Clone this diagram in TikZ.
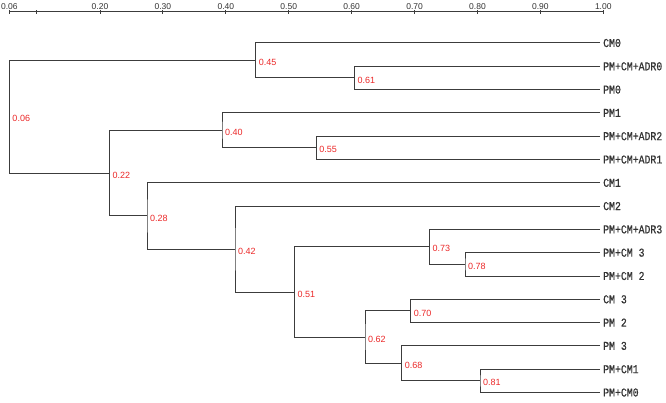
\documentclass[tikz,border=0pt]{standalone}
\usepackage{fontspec}
\setmainfont{Liberation Sans}
\newfontfamily\leaffont[FakeStretch=0.82,FakeBold=0.6]{Liberation Mono}
\definecolor{valred}{RGB}{235,40,40}
\definecolor{linegray}{RGB}{60,60,60}

\begin{document}
\begin{tikzpicture}[x=1pt,y=-1pt]
    \tikzstyle{leaf}=[anchor=west,inner xsep=3pt,inner ysep=0pt,font=\leaffont\fontsize{12}{12}\selectfont,text=black!80]
    \tikzstyle{val}=[anchor=west,inner sep=0pt,xshift=3pt,yshift=-2pt,font=\fontsize{9}{9}\selectfont,text=valred]
    \tikzstyle{branch}=[draw=linegray,line width=1pt]
    \tikzstyle{scalelabel}=[anchor=base,inner sep=0pt,font=\fontsize{8.5}{9}\selectfont,text=black!80]
    \useasboundingbox (0,0) rectangle (666,403);

    % scale on top
    \coordinate (s0) at (9.3,12);
    \coordinate (s1) at (603.3,12);
    \draw[branch] (s0) -- (s1);
    \node (t06)[scalelabel] at (9.3,10) {0.06};
    \draw[branch] (9.3,10.5) -- ++(0,3.5);
    \draw[branch] (36.3,10.5) -- ++(0,3.5);
    \foreach \v [count=\i from 0] in {0.20,0.30,0.40,0.50,0.60,0.70,0.80,0.90,1.00} {
        \node (t\i)[scalelabel] at ({100+62.91*\i},10) {\v};
        \draw[branch] ({100+62.91*\i},10.5) -- ++(0,3.5);
    }

    % leaves
    \foreach \name [count=\i from 0] in {CM0,PM+CM+ADR0,PM0,PM1,PM+CM+ADR2,PM+CM+ADR1,CM1,CM2,PM+CM+ADR3,PM+CM 3,PM+CM 2,CM 3,PM 2,PM 3,PM+CM1,PM+CM0}
        \node (l\i)[leaf] at (600,{43+23.3*\i}) {\name};

    % joins
    \coordinate (n61) at (354.5,77.95);
    \coordinate (n45) at (255.7,60.48);
    \coordinate (n55) at (316.2,147.85);
    \coordinate (n40) at (222,130.38);
    \coordinate (n78) at (465,264.35);
    \coordinate (n73) at (429.3,246.88);
    \coordinate (n70) at (410.7,310.95);
    \coordinate (n81) at (480,380.85);
    \coordinate (n68) at (401.7,363.38);
    \coordinate (n62) at (365,337.16);
    \coordinate (n51) at (294.5,292.02);
    \coordinate (n42) at (235,249.06);
    \coordinate (n28) at (147,215.93);
    \coordinate (n22) at (109.5,173.15);
    \coordinate (n06) at (9.3,116.8);

    \draw[branch] (l1.west) -| (n61) |- (l2.west);
    \draw[branch] (l0.west) -| (n45) |- (n61);
    \draw[branch] (l4.west) -| (n55) |- (l5.west);
    \draw[branch] (l3.west) -| (n40) |- (n55);
    \draw[branch] (l9.west) -| (n78) |- (l10.west);
    \draw[branch] (l8.west) -| (n73) |- (n78);
    \draw[branch] (l11.west) -| (n70) |- (l12.west);
    \draw[branch] (l14.west) -| (n81) |- (l15.west);
    \draw[branch] (l13.west) -| (n68) |- (n81);
    \draw[branch] (n70) -| (n62) |- (n68);
    \draw[branch] (n73) -| (n51) |- (n62);
    \draw[branch] (l7.west) -| (n42) |- (n51);
    \draw[branch] (l6.west) -| (n28) |- (n42);
    \draw[branch] (n40) -| (n22) |- (n28);
    \draw[branch] (n45) -| (n06) |- (n22);

    % similarity values
    \node (v06)[val] at (n06) {0.06};
    \node (v45)[val] at (n45) {0.45};
    \node (v61)[val] at (n61) {0.61};
    \node (v40)[val] at (n40) {0.40};
    \node (v55)[val] at (n55) {0.55};
    \node (v22)[val] at (n22) {0.22};
    \node (v28)[val] at (n28) {0.28};
    \node (v42)[val] at (n42) {0.42};
    \node (v51)[val] at (n51) {0.51};
    \node (v73)[val] at (n73) {0.73};
    \node (v78)[val] at (n78) {0.78};
    \node (v62)[val] at (n62) {0.62};
    \node (v70)[val] at (n70) {0.70};
    \node (v68)[val] at (n68) {0.68};
    \node (v81)[val] at (n81) {0.81};
\end{tikzpicture}
\end{document}
